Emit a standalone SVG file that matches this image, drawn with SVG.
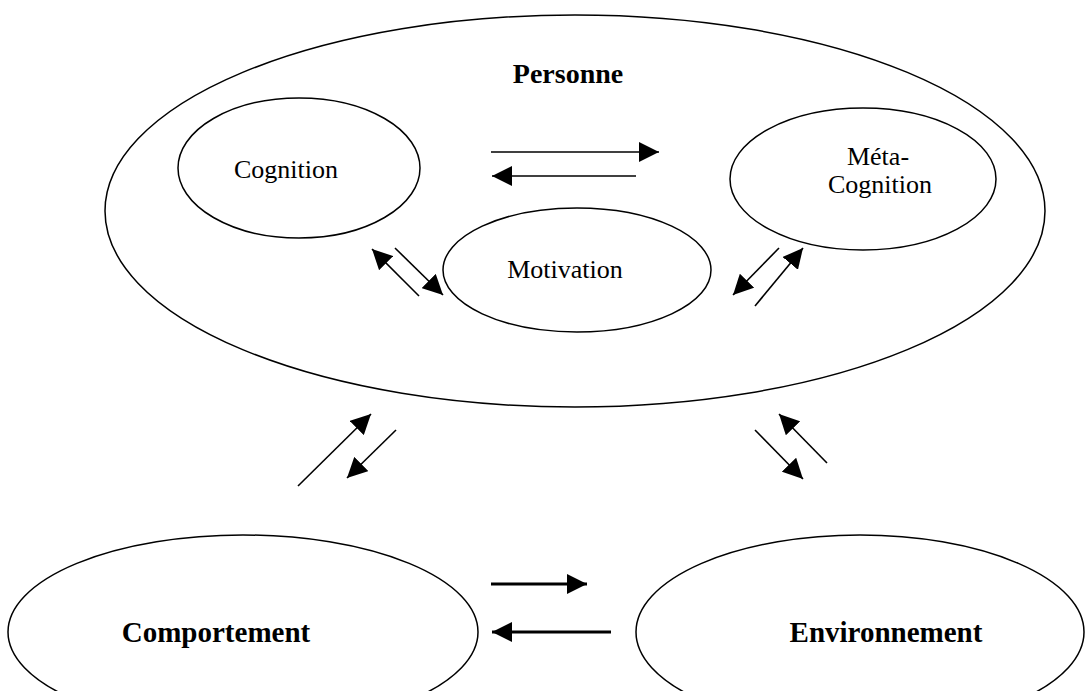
<svg xmlns="http://www.w3.org/2000/svg" width="1087" height="691" viewBox="0 0 1087 691">
<style>
.node{fill:none;stroke:#000;stroke-width:1.5}
.lbl{font-family:"Liberation Serif","Times New Roman",serif;font-size:26px;fill:#000;text-anchor:middle}
.big{font-weight:bold;font-size:29px}
.c{stroke:#000;stroke-width:1.6;fill:none}
.ct{stroke:#000;stroke-width:3;fill:none}
</style>
<defs>
<marker id="ah" viewBox="0 0 20 20" refX="20" refY="10" markerWidth="20" markerHeight="20" markerUnits="userSpaceOnUse" orient="auto">
<path d="M0,0 L20,10 L0,20 Z" fill="#000"/>
</marker>
</defs>
<rect width="1087" height="691" fill="#fff"/>
<g id="personne">
<ellipse class="node" cx="575" cy="211" rx="470" ry="196"/>
<text class="lbl big" x="568" y="83" style="font-size:28px">Personne</text>
</g>
<g id="cognition">
<ellipse class="node" cx="299" cy="168" rx="121" ry="70"/>
<text class="lbl" x="286" y="178">Cognition</text>
</g>
<g id="metacognition">
<ellipse class="node" cx="863" cy="179" rx="133" ry="71"/>
<text class="lbl" x="878" y="165">Méta-</text>
<text class="lbl" x="880" y="193">Cognition</text>
</g>
<g id="motivation">
<ellipse class="node" cx="577" cy="270" rx="134" ry="62"/>
<text class="lbl" x="565" y="278">Motivation</text>
</g>
<g id="comportement">
<ellipse class="node" cx="243" cy="632" rx="235" ry="97"/>
<text class="lbl big" x="216" y="642">Comportement</text>
</g>
<g id="environnement">
<ellipse class="node" cx="860" cy="632" rx="224" ry="97"/>
<text class="lbl big" x="886" y="642">Environnement</text>
</g>
<g id="connectors">
<line class="c" x1="491" y1="152" x2="659" y2="152" marker-end="url(#ah)"/>
<line class="c" x1="636" y1="176" x2="492" y2="176" marker-end="url(#ah)"/>
<line class="c" x1="419" y1="296" x2="372" y2="249" marker-end="url(#ah)"/>
<line class="c" x1="395" y1="248" x2="443" y2="295" marker-end="url(#ah)"/>
<line class="c" x1="779" y1="248" x2="733" y2="295" marker-end="url(#ah)"/>
<line class="c" x1="755" y1="306" x2="803" y2="248" marker-end="url(#ah)"/>
<line class="c" x1="298" y1="486" x2="371" y2="414" marker-end="url(#ah)"/>
<line class="c" x1="396" y1="430" x2="347" y2="478" marker-end="url(#ah)"/>
<line class="c" x1="755" y1="430" x2="803" y2="479" marker-end="url(#ah)"/>
<line class="c" x1="827" y1="463" x2="779" y2="414" marker-end="url(#ah)"/>
<line class="ct" x1="491" y1="584" x2="587" y2="584" marker-end="url(#ah)"/>
<line class="ct" x1="611" y1="632" x2="492" y2="632" marker-end="url(#ah)"/>
</g>
</svg>
